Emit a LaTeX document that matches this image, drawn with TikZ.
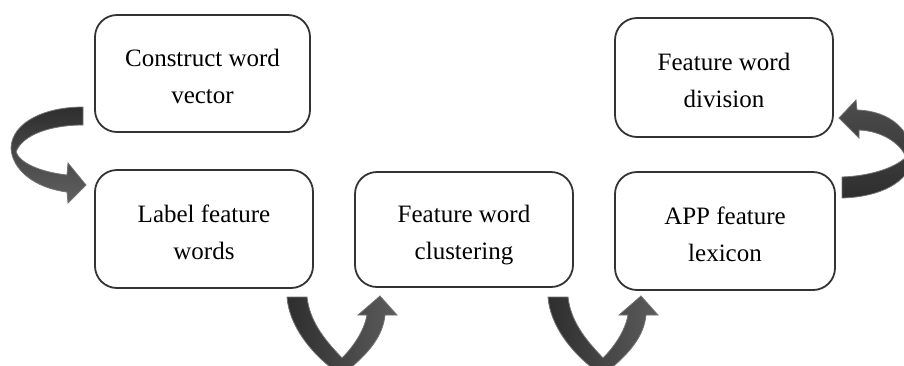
\documentclass[tikz,border=0pt]{standalone}
\usepackage{fontspec}
\setmainfont{Liberation Serif}

\newcommand{\topstrut}{\rule{0pt}{28pt}}
\newcommand{\botstrut}{\rule[-5pt]{0pt}{5pt}}

\tikzset{
	stepbox/.style={draw=black!80, line width=1.8pt, rounded corners=22pt,
		align=center, inner sep=0pt, font=\fontsize{25}{37}\selectfont},
	ribbon/.style={draw=black!55, line width=0.8pt}
}

\begin{document}
\begin{tikzpicture}[x=1pt,y=-1pt]
	\useasboundingbox (0,0) rectangle (904,365);
	\clip (0,0) rectangle (904,365);
	% the five steps
	\node[stepbox, minimum width=215pt, minimum height=117pt] (CV) at (202.5,73.5) {\topstrut Construct word\\vector\botstrut};
	\node[stepbox, minimum width=218pt, minimum height=118pt] (LF) at (204,229) {\topstrut Label feature\\words\botstrut};
	\node[stepbox, minimum width=218pt, minimum height=115pt] (FC) at (464,229.5) {\topstrut Feature word\\clustering\botstrut};
	\node[stepbox, minimum width=220pt, minimum height=118pt] (AL) at (725,231) {\topstrut APP feature\\lexicon\botstrut};
	\node[stepbox, minimum width=218pt, minimum height=119pt] (FD) at (724,77.5) {\topstrut Feature word\\division\botstrut};
	% left loop, CV to LF
	\draw[ribbon, top color=black!82, bottom color=black!62] (83,107) .. controls (45,107) and (12,122) .. (11,148)
		.. controls (12,170) and (35,188) .. (67,192) -- (68,203) -- (86,185) -- (68,163) -- (67,175)
		.. controls (40,172) and (20,163) .. (16,152) .. controls (22,135) and (50,125) .. (83,125) -- cycle;
	% bottom turns, LF to FC and FC to AL
	\foreach \dx in {0,261}
		\draw[ribbon, left color=black!82, right color=black!64, xshift=\dx] (287,297)
			.. controls (289,325) and (310,352) .. (334,370) -- (348,370)
			.. controls (370,352) and (383,335) .. (385,315) -- (397,315) -- (380,296) -- (358,315) -- (367,315)
			.. controls (364,332) and (352,348) .. (342,358) .. controls (330,345) and (310,325) .. (307,297) -- cycle;
	% right loop, AL to FD
	\draw[ribbon, top color=black!70, bottom color=black!82] (842,177) -- (842,198)
		.. controls (880,197) and (910,182) .. (912,158) .. controls (912,130) and (890,111) .. (857,110)
		-- (856,100) -- (839,118) -- (859,138) -- (859,130)
		.. controls (882,131) and (900,143) .. (906,157) .. controls (895,168) and (870,176) .. (842,177) -- cycle;
\end{tikzpicture}
\end{document}
